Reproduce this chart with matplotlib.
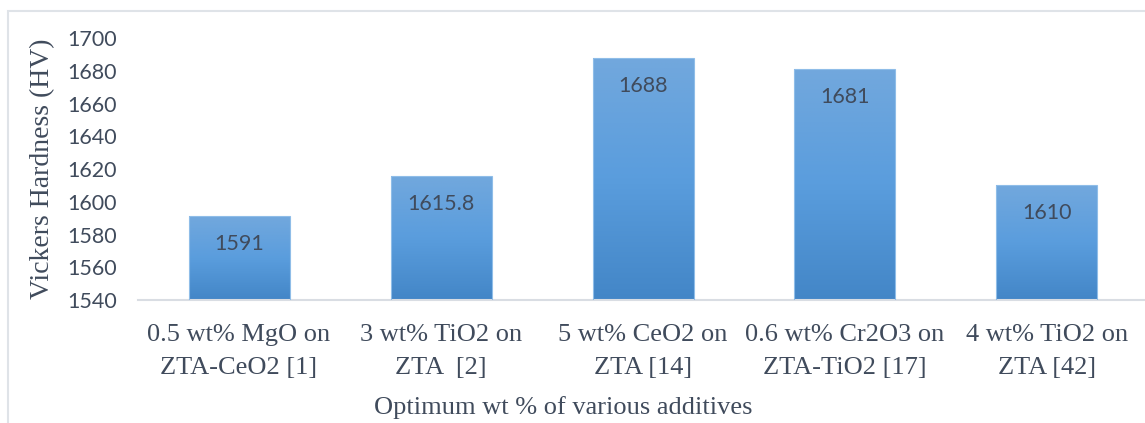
import matplotlib
matplotlib.use("Agg")
import matplotlib.pyplot as plt
import numpy as np
from matplotlib.patches import Rectangle
from matplotlib.colors import LinearSegmentedColormap

categories = ["0.5 wt% MgO on\nZTA-CeO2 [1]", "3 wt% TiO2 on\nZTA  [2]", "5 wt% CeO2 on\nZTA [14]",
              "0.6 wt% Cr2O3 on\nZTA-TiO2 [17]", "4 wt% TiO2 on\nZTA [42]"]
values = [1591, 1615.8, 1688, 1681, 1610]
value_labels = ["1591", "1615.8", "1688", "1681", "1610"]
yticks = [1540, 1560, 1580, 1600, 1620, 1640, 1660, 1680, 1700]

W, H = 1145, 423
fig = plt.figure(figsize=(W / 100, H / 100), dpi=100)
ax = fig.add_axes([138 / W, 1 - 300 / H, (1145 - 138) / W, (300 - 38) / H])

x = np.arange(len(categories))
bars = ax.bar(x, values, width=0.5, bottom=0, color="none", edgecolor="#8fbde8", linewidth=0.8, zorder=3)

cmap = LinearSegmentedColormap.from_list("g", ["#4386c7", "#5a9ddd", "#72a8dd"])
grad = np.linspace(0, 1, 256).reshape(-1, 1)
for b in bars:
    bx, bw = b.get_x(), b.get_width()
    im = ax.imshow(grad, cmap=cmap, origin="lower", aspect="auto",
                   extent=[bx, bx + bw, 1540, b.get_height()], zorder=2)
    im.set_clip_path(b)
ax.set_ylim(1540, 1700)
ax.set_xlim(-0.5, -0.5 + (1145 - 138) / 202)

num_font = ["Lato", "DejaVu Sans"]
txt_color = "#404b5c"
for xi, v, lab in zip(x, values, value_labels):
    ax.annotate(lab, (xi, v), xytext=(0, -28), textcoords="offset pixels",
                ha="center", va="center", fontsize=15.5, family=num_font, color=txt_color, zorder=4)

ax.set_yticks(yticks)
ax.set_yticklabels([str(t) for t in yticks], family=num_font, fontsize=15.5, color=txt_color)
ax.set_xticks(x)
ax.set_xticklabels(categories, family="Liberation Serif", fontsize=19, color=txt_color, linespacing=1.65)
ax.tick_params(axis="both", length=0)
ax.tick_params(axis="y", pad=15)
ax.tick_params(axis="x", pad=17)

for s in ["top", "right", "left"]:
    ax.spines[s].set_visible(False)
ax.spines["bottom"].set_color("#d9dde3")
ax.spines["bottom"].set_linewidth(1.5)

fig.text(43 / W, 1 - 169 / H, "Vickers Hardness (HV)", rotation=90, ha="center", va="center",
         family="Liberation Serif", fontsize=20, color=txt_color)
fig.text(563 / W, 1 - 408 / H, "Optimum wt % of various additives", ha="center", va="center",
         family="Liberation Serif", fontsize=19, color=txt_color)

fig.patches.append(Rectangle((8 / W, -0.2), 2, 1.2 - 11 / H, transform=fig.transFigure,
                             fill=False, edgecolor="#dfe3e8", linewidth=1.5))

fig.savefig("out.png", dpi=100, facecolor="white")
